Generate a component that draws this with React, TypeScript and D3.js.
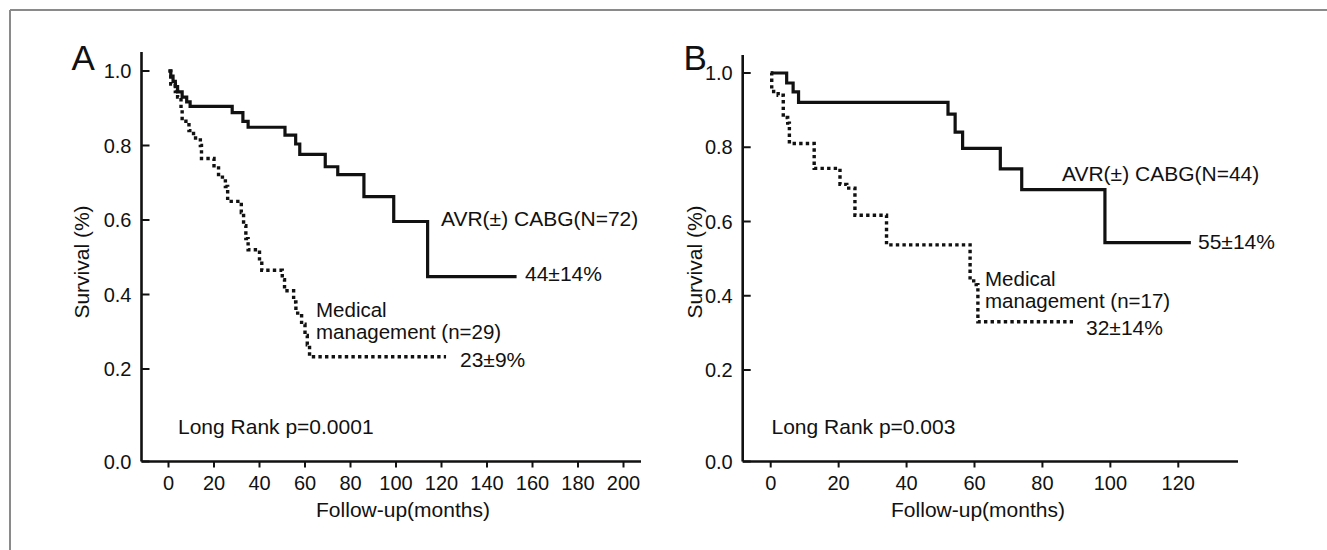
import React from 'react'
import * as d3 from 'd3'

// Panel A: months, survival
const avrA: [number, number][] = [
  [0, 1], [1, 0.986], [2, 0.972], [3, 0.958], [4, 0.944], [6, 0.93], [8, 0.917], [9.5, 0.905],
  [28, 0.888], [32.7, 0.865], [35, 0.849], [51.2, 0.828], [55.9, 0.804], [57.7, 0.776],
  [68.9, 0.743], [74.4, 0.722], [85.9, 0.663], [99, 0.596], [113.9, 0.448], [153, 0.448],
]
const medA: [number, number][] = [
  [0, 1], [1, 0.965], [3, 0.945], [4, 0.93], [5.5, 0.895], [6, 0.865], [9, 0.84], [11, 0.82],
  [14, 0.8], [14.5, 0.765], [20, 0.74], [22, 0.715], [25, 0.69], [26, 0.65], [32, 0.62],
  [33, 0.585], [34, 0.55], [35, 0.52], [40, 0.49], [41, 0.465], [50, 0.44], [51, 0.41],
  [55, 0.38], [56, 0.35], [58.5, 0.32], [60, 0.29], [61, 0.265], [62, 0.233], [122, 0.233],
]
// Panel B
const avrB: [number, number][] = [
  [0, 1], [4.7, 0.973], [6.6, 0.949], [8.2, 0.921], [52.2, 0.889], [54.3, 0.841], [56.5, 0.797],
  [67.6, 0.742], [73.9, 0.686], [98.4, 0.543], [123.7, 0.543],
]
const medB: [number, number][] = [
  [0, 1], [0.3, 0.95], [2.2, 0.94], [3.7, 0.88], [5, 0.865], [5.5, 0.81], [12.8, 0.743],
  [20.4, 0.7], [22.4, 0.69], [24.8, 0.617], [34.1, 0.537], [58.7, 0.44], [60.5, 0.43],
  [61, 0.33], [89, 0.33],
]

const yTicks = [0, 0.2, 0.4, 0.6, 0.8, 1.0]
const xTicksA = d3.range(0, 201, 20)
const xTicksB = d3.range(0, 121, 20)

const FONT = 'Liberation Sans, Arial, sans-serif'

type Label = { text: string; x: number; y: number; size?: number }

type PanelProps = {
  letter: string
  letterX: number
  axisX: number
  axisTop: number
  axisRight: number
  x0: number
  xEndMonth: number
  xEndPx: number
  xTicks: number[]
  yTop: number
  y02: number
  solid: [number, number][]
  dotted: [number, number][]
  labels: Label[]
  pLabel: Label
  xTitleX: number
  yTitleX: number
}

const AXIS_Y = 461.5

const Panel = (p: PanelProps) => {
  const x = d3.scaleLinear().domain([0, p.xEndMonth]).range([p.x0, p.xEndPx])
  // 0.0 sits on the x axis, a bit below the linear spacing of the other ticks
  const y = d3.scaleLinear().domain([0, 0.2, 1]).range([AXIS_Y, p.y02, p.yTop])
  const line = d3
    .line<[number, number]>()
    .x(d => x(d[0]))
    .y(d => y(d[1]))
    .curve(d3.curveStepAfter)

  return (
    <g fontFamily={FONT} fill="#111">
      <text x={p.letterX} y={70} fontSize={35}>{p.letter}</text>

      {/* y axis */}
      <line x1={p.axisX} x2={p.axisX} y1={p.axisTop} y2={AXIS_Y} stroke="#111" strokeWidth={2.6} />
      {yTicks.map(t => (
        <g key={t}>
          <line x1={p.axisX} x2={p.axisX + 8} y1={y(t)} y2={y(t)} stroke="#111" strokeWidth={2} />
          <text x={p.axisX - 10} y={y(t)} dy="0.36em" fontSize={20} textAnchor="end">
            {d3.format('.1f')(t)}
          </text>
        </g>
      ))}
      <text
        transform={`translate(${p.yTitleX}, 262) rotate(-90)`}
        fontSize={21}
        textAnchor="middle"
        dy="0.36em"
      >
        Survival (%)
      </text>

      {/* x axis */}
      <line x1={p.axisX} x2={p.axisRight} y1={AXIS_Y} y2={AXIS_Y} stroke="#111" strokeWidth={2.6} />
      {p.xTicks.map(t => (
        <g key={t}>
          <line x1={x(t)} x2={x(t)} y1={AXIS_Y} y2={AXIS_Y + 6} stroke="#111" strokeWidth={2} />
          <text x={x(t)} y={490} fontSize={20} textAnchor="middle">{t}</text>
        </g>
      ))}
      <text x={p.xTitleX} y={517} fontSize={21} textAnchor="middle">Follow-up(months)</text>

      {/* curves */}
      <path d={line(p.dotted) || ''} fill="none" stroke="#111" strokeWidth={3.4} strokeDasharray="3.4 3.2" />
      <path d={line(p.solid) || ''} fill="none" stroke="#111" strokeWidth={3.2} />

      {p.labels.map((l, i) => (
        <text key={i} x={l.x} y={l.y} fontSize={l.size || 21}>{l.text}</text>
      ))}
      <text x={p.pLabel.x} y={p.pLabel.y} fontSize={21}>{p.pLabel.text}</text>
    </g>
  )
}

export default function App() {
  return (
    <svg width={1327} height={550} style={{ position: 'absolute', left: 0, top: 0, background: '#fff' }}>
      <rect x={0} y={0} width={1327} height={550} fill="#fff" />
      <line x1={10} x2={1327} y1={10} y2={10} stroke="#8a8a8a" strokeWidth={2} />
      <line x1={10} x2={10} y1={10} y2={550} stroke="#8a8a8a" strokeWidth={2} />
      <Panel
        letter="A"
        letterX={71.5}
        axisX={141.5}
        axisTop={52}
        axisRight={641}
        x0={168.5}
        xEndMonth={200}
        xEndPx={623.5}
        xTicks={xTicksA}
        yTop={71}
        y02={369}
        solid={avrA}
        dotted={medA}
        labels={[
          { text: 'AVR(±) CABG(N=72)', x: 441, y: 226 },
          { text: '44±14%', x: 525, y: 281 },
          { text: 'Medical', x: 316, y: 317, size: 20.5 },
          { text: 'management (n=29)', x: 316, y: 339, size: 20.5 },
          { text: '23±9%', x: 460, y: 367 },
        ]}
        pLabel={{ text: 'Long Rank p=0.0001', x: 178, y: 434 }}
        xTitleX={403}
        yTitleX={81}
      />
      <Panel
        letter="B"
        letterX={683.5}
        axisX={742.7}
        axisTop={55}
        axisRight={1238}
        x0={770.7}
        xEndMonth={120}
        xEndPx={1178.3}
        xTicks={xTicksB}
        yTop={73}
        y02={370}
        solid={avrB}
        dotted={medB}
        labels={[
          { text: 'AVR(±) CABG(N=44)', x: 1062, y: 181 },
          { text: '55±14%', x: 1198, y: 249 },
          { text: 'Medical', x: 985, y: 286, size: 20.5 },
          { text: 'management (n=17)', x: 985, y: 308, size: 20.5 },
          { text: '32±14%', x: 1086, y: 335 },
        ]}
        pLabel={{ text: 'Long Rank p=0.003', x: 771.5, y: 434 }}
        xTitleX={978}
        yTitleX={694}
      />
    </svg>
  )
}
